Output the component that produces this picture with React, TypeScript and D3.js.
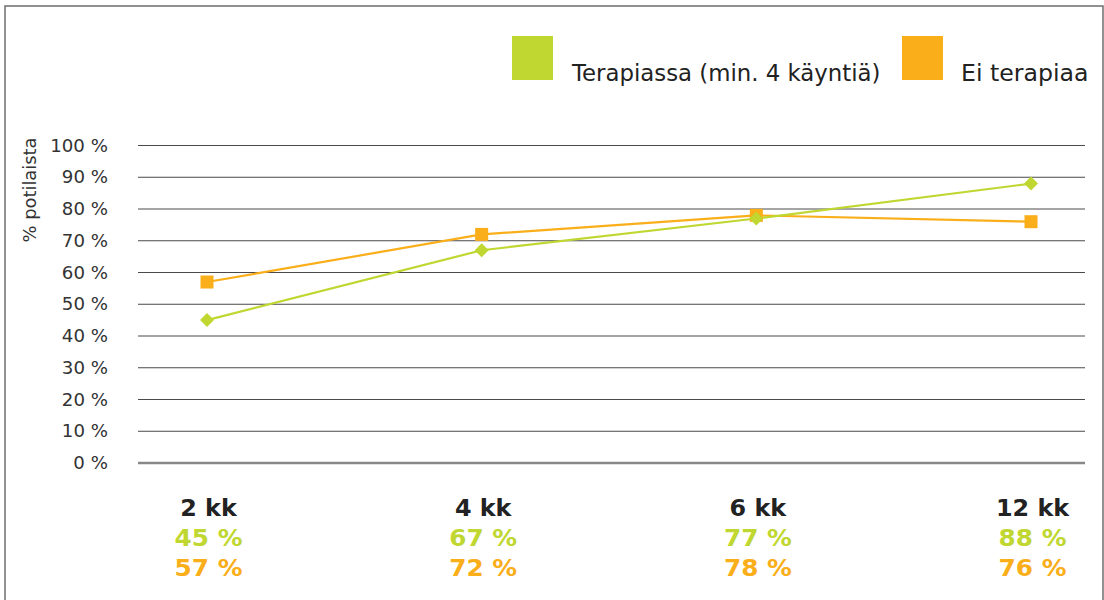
import React from "react";
import * as d3 from "d3";

const categories = ["2 kk", "4 kk", "6 kk", "12 kk"];
const therapyValues = [45, 67, 77, 88];
const noTherapyValues = [57, 72, 78, 76];
const yTicks = [0, 10, 20, 30, 40, 50, 60, 70, 80, 90, 100];
const seriesNames = ["Terapiassa (min. 4 käyntiä)", "Ei terapiaa"];

const GREEN = "#BFD730";
const ORANGE = "#F9AE1A";
const FONT = "'DejaVu Sans', Verdana, sans-serif";

// Text placed at (x, y) and stretched horizontally to get a wider face.
function WideText(props: {
  x: number;
  y: number;
  sx: number;
  anchor?: string;
  size: number;
  fill: string;
  weight?: string;
  children: React.ReactNode;
}) {
  const { x, y, sx, anchor = "start", size, fill, weight = "normal", children } = props;
  return (
    <text
      transform={`translate(${x},${y}) scale(${sx},1)`}
      textAnchor={anchor}
      fontFamily={FONT}
      fontSize={size}
      fontWeight={weight}
      fill={fill}
    >
      {children}
    </text>
  );
}

export default function App() {
  const width = 1104;
  const height = 600;
  const x = d3.scalePoint<string>().domain(categories).range([207, 1031]);
  const y = d3.scaleLinear().domain([0, 100]).range([463, 145.5]);
  const gridX0 = 138;
  const gridX1 = 1085;

  const line = d3
    .line<number>()
    .x((_, i) => x(categories[i]) as number)
    .y((d) => y(d));

  // square rotated 45° gives an even diamond
  const diamond = d3.symbol().type(d3.symbolSquare).size(98)();

  return (
    <div style={{ position: "absolute", left: 0, top: 0 }}>
      <svg width={width} height={height} style={{ display: "block" }}>
        <rect x={0} y={0} width={width} height={height} fill="#fff" />
        <rect x={5} y={6} width={1098} height={620} fill="none" stroke="#6e6e6e" strokeWidth={1.5} />

        {/* legend */}
        <rect x={512} y={36} width={41} height={44} fill={GREEN} />
        <WideText x={572} y={81} sx={1.015} size={22.5} fill="#222">
          {seriesNames[0]}
        </WideText>
        <rect x={902} y={36} width={41} height={44} fill={ORANGE} />
        <WideText x={961} y={81} sx={1.05} size={22.5} fill="#222">
          {seriesNames[1]}
        </WideText>

        {/* gridlines and y tick labels */}
        {yTicks.map((t) => (
          <g key={t}>
            <line
              x1={gridX0}
              x2={gridX1}
              y1={y(t)}
              y2={y(t)}
              stroke={t === 0 ? "#888" : "#4a4a4a"}
              strokeWidth={t === 0 ? 2.5 : 1}
            />
            <WideText x={108} y={y(t) + 6} sx={1.07} anchor="end" size={17} fill="#333">
              {`${t} %`}
            </WideText>
          </g>
        ))}

        <text
          transform={`translate(36,${190}) rotate(-90) scale(1.05,1)`}
          textAnchor="middle"
          fontFamily={FONT}
          fontSize={17}
          fill="#333"
        >
          % potilaista
        </text>

        {/* series lines */}
        <path d={line(noTherapyValues) || ""} fill="none" stroke={ORANGE} strokeWidth={2.2} />
        <path d={line(therapyValues) || ""} fill="none" stroke={GREEN} strokeWidth={2.2} />

        {noTherapyValues.map((v, i) => (
          <rect
            key={`o${i}`}
            x={(x(categories[i]) as number) - 6.5}
            y={y(v) - 6.5}
            width={13}
            height={13}
            fill={ORANGE}
          />
        ))}
        {therapyValues.map((v, i) => (
          <path
            key={`g${i}`}
            d={diamond || ""}
            transform={`translate(${x(categories[i])},${y(v)}) rotate(45)`}
            fill={GREEN}
          />
        ))}

        {/* category labels with values */}
        {categories.map((c, i) => {
          const cx = (x(c) as number) + 1.5;
          return (
            <g key={c}>
              <WideText x={cx} y={516} sx={1.06} anchor="middle" size={22.5} weight="bold" fill="#222">
                {c}
              </WideText>
              <WideText x={cx} y={546} sx={1.1} anchor="middle" size={22.5} weight="bold" fill={GREEN}>
                {`${therapyValues[i]} %`}
              </WideText>
              <WideText x={cx} y={576} sx={1.1} anchor="middle" size={22.5} weight="bold" fill={ORANGE}>
                {`${noTherapyValues[i]} %`}
              </WideText>
            </g>
          );
        })}
      </svg>
    </div>
  );
}
